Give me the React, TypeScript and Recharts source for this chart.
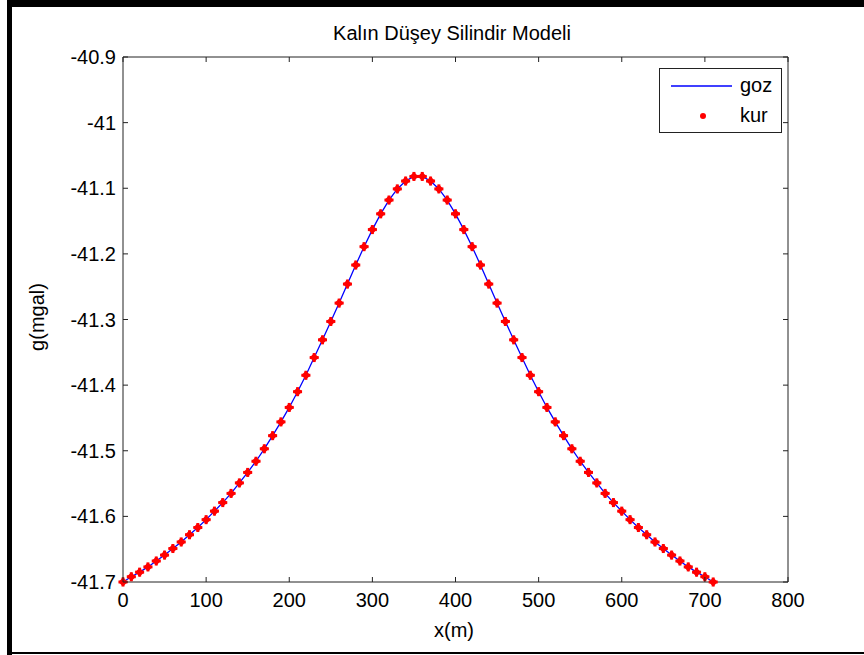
import React from "react";
import {
  ComposedChart,
  Line,
  Scatter,
  XAxis,
  YAxis,
  ReferenceLine,
} from "recharts";

// x positions (m): one sample every 10 m
const xValues = [
  0, 10, 20, 30, 40, 50, 60, 70, 80, 90, 100, 110, 120, 130, 140, 150, 160,
  170, 180, 190, 200, 210, 220, 230, 240, 250, 260, 270, 280, 290, 300, 310,
  320, 330, 340, 350, 360, 370, 380, 390, 400, 410, 420, 430, 440, 450, 460,
  470, 480, 490, 500, 510, 520, 530, 540, 550, 560, 570, 580, 590, 600, 610,
  620, 630, 640, 650, 660, 670, 680, 690, 700, 710,
];

// observed gravity (goz), mGal
const gozValues = [
  -41.7, -41.692, -41.685, -41.677, -41.668, -41.659, -41.649, -41.639,
  -41.628, -41.617, -41.605, -41.592, -41.579, -41.565, -41.549, -41.533,
  -41.516, -41.497, -41.477, -41.456, -41.434, -41.41, -41.385, -41.358,
  -41.331, -41.303, -41.275, -41.246, -41.217, -41.189, -41.163, -41.139,
  -41.118, -41.101, -41.089, -41.082, -41.082, -41.089, -41.101, -41.118,
  -41.139, -41.163, -41.189, -41.217, -41.246, -41.275, -41.303, -41.331,
  -41.358, -41.385, -41.41, -41.434, -41.456, -41.477, -41.497, -41.516,
  -41.533, -41.549, -41.565, -41.579, -41.592, -41.605, -41.617, -41.628,
  -41.639, -41.649, -41.659, -41.668, -41.677, -41.685, -41.692, -41.7,
];

// computed gravity (kur), mGal - sits on top of goz in the picture
const kurValues = [
  -41.7, -41.692, -41.685, -41.677, -41.668, -41.659, -41.649, -41.639,
  -41.628, -41.617, -41.605, -41.592, -41.579, -41.565, -41.549, -41.533,
  -41.516, -41.497, -41.477, -41.456, -41.434, -41.41, -41.385, -41.358,
  -41.331, -41.303, -41.275, -41.246, -41.217, -41.189, -41.163, -41.139,
  -41.118, -41.101, -41.089, -41.082, -41.082, -41.089, -41.101, -41.118,
  -41.139, -41.163, -41.189, -41.217, -41.246, -41.275, -41.303, -41.331,
  -41.358, -41.385, -41.41, -41.434, -41.456, -41.477, -41.497, -41.516,
  -41.533, -41.549, -41.565, -41.579, -41.592, -41.605, -41.617, -41.628,
  -41.639, -41.649, -41.659, -41.668, -41.677, -41.685, -41.692, -41.7,
];

const xTicks = [0, 100, 200, 300, 400, 500, 600, 700, 800];
const yTicks = [-41.7, -41.6, -41.5, -41.4, -41.3, -41.2, -41.1, -41, -40.9];

const data = xValues.map((x, i) => ({ x, goz: gozValues[i], kur: kurValues[i] }));

const FONT = '"Liberation Sans", Arial, sans-serif';
const FS = 20;
const AXIS = "#222";

// plot box (matches the chart margins + axis sizes below)
const W = 864;
const H = 655;
const M = { top: 57, right: 76, bottom: 13, left: 8 };
const Y_AXIS_W = 115;
const X_AXIS_H = 60;
const PL = M.left + Y_AXIS_W;
const PR = W - M.right;
const PT = M.top;
const PB = H - M.bottom - X_AXIS_H;
const TICK = 5;

const fmtY = (v: number) => String(Math.round(v * 10) / 10);

const YTick = (props: any) => {
  const { x, y, payload } = props;
  const c = payload.coordinate;
  return (
    <g>
      <line x1={PL} x2={PL + TICK} y1={c} y2={c} stroke={AXIS} />
      <line x1={PR - TICK} x2={PR} y1={c} y2={c} stroke={AXIS} />
      <text x={x} y={y} dy="0.355em" textAnchor="end" fill="#000" fontSize={FS} fontFamily={FONT}>
        {fmtY(payload.value)}
      </text>
    </g>
  );
};

const XTick = (props: any) => {
  const { x, y, payload } = props;
  const c = payload.coordinate;
  return (
    <g>
      <line x1={c} x2={c} y1={PB} y2={PB - TICK} stroke={AXIS} />
      <line x1={c} x2={c} y1={PT} y2={PT + TICK} stroke={AXIS} />
      <text x={x} y={y} dy="0.71em" textAnchor="middle" fill="#000" fontSize={FS} fontFamily={FONT}>
        {payload.value}
      </text>
    </g>
  );
};

const RedMark = (props: any) => {
  const { cx, cy } = props;
  if (cx == null || cy == null) return null;
  const r = 4.5;
  return (
    <g>
      <path
        d={`M${cx - r},${cy} L${cx},${cy - r} L${cx + r},${cy} L${cx},${cy + r} Z`}
        fill="#ff0000"
      />
      <rect x={cx - r} y={cy - 1.5} width={r * 2} height={3} fill="#ff0000" />
      <rect x={cx - 1.5} y={cy - r} width={3} height={r * 2} fill="#ff0000" />
    </g>
  );
};

export default function App() {
  return (
    <div
      style={{
        position: "absolute",
        left: 0,
        top: 0,
        width: W,
        height: H,
        background: "#fff",
        fontFamily: FONT,
        overflow: "hidden",
      }}
    >
      <ComposedChart width={W} height={H} data={data} margin={M}>
        <XAxis
          dataKey="x"
          type="number"
          domain={[0, 800]}
          ticks={xTicks}
          interval={0}
          height={X_AXIS_H}
          stroke={AXIS}
          tickLine={false}
          tickSize={0}
          tickMargin={11}
          tick={<XTick />}
        />
        <YAxis
          type="number"
          domain={[-41.7, -40.9]}
          ticks={yTicks}
          interval={0}
          width={Y_AXIS_W}
          stroke={AXIS}
          tickLine={false}
          tickSize={0}
          tickMargin={7}
          tick={<YTick />}
        />
        {/* box: top and right edges */}
        <ReferenceLine y={-40.9} stroke={AXIS} ifOverflow="extendDomain" />
        <ReferenceLine x={800} stroke={AXIS} ifOverflow="extendDomain" />
        <Line
          dataKey="goz"
          type="linear"
          stroke="#0000ff"
          strokeWidth={1.3}
          dot={false}
          activeDot={false}
          isAnimationActive={false}
        />
        <Scatter dataKey="kur" shape={<RedMark />} isAnimationActive={false} />
      </ComposedChart>

      {/* title and axis names */}
      <div
        style={{
          position: "absolute",
          left: 252,
          top: 22,
          width: 400,
          textAlign: "center",
          fontSize: FS,
          lineHeight: "22px",
          color: "#000",
        }}
      >
        Kalın Düşey Silindir Modeli
      </div>
      <div
        style={{
          position: "absolute",
          left: 354,
          top: 619,
          width: 200,
          textAlign: "center",
          fontSize: FS,
          lineHeight: "22px",
          color: "#000",
        }}
      >
        x(m)
      </div>
      <div
        style={{
          position: "absolute",
          left: 37 - 100,
          top: 317 - 11,
          width: 200,
          textAlign: "center",
          fontSize: FS,
          lineHeight: "22px",
          color: "#000",
          transform: "rotate(-90deg)",
        }}
      >
        g(mgal)
      </div>

      {/* legend */}
      <div
        style={{
          position: "absolute",
          left: 659,
          top: 68,
          width: 123,
          height: 65,
          boxSizing: "border-box",
          border: `1px solid ${AXIS}`,
          background: "#fff",
          fontSize: FS,
          color: "#000",
        }}
      >
        <svg width={121} height={63} style={{ position: "absolute", left: 0, top: 0 }}>
          <line x1={11} x2={72} y1={17} y2={17} stroke="#0000ff" strokeWidth={1.3} />
          <circle cx={43} cy={47} r={3} fill="#ff0000" />
        </svg>
        <div style={{ position: "absolute", left: 80, top: 5, lineHeight: "22px" }}>goz</div>
        <div style={{ position: "absolute", left: 80, top: 35, lineHeight: "22px" }}>kur</div>
      </div>

      {/* figure frame */}
      <div style={{ position: "absolute", left: 7, top: 0, width: W - 7, height: 7, background: "#000" }} />
      <div style={{ position: "absolute", left: 7, top: 0, width: 5, height: H, background: "#000" }} />
      <div style={{ position: "absolute", left: 7, top: 652, width: W - 7, height: 2, background: "#000" }} />
    </div>
  );
}
